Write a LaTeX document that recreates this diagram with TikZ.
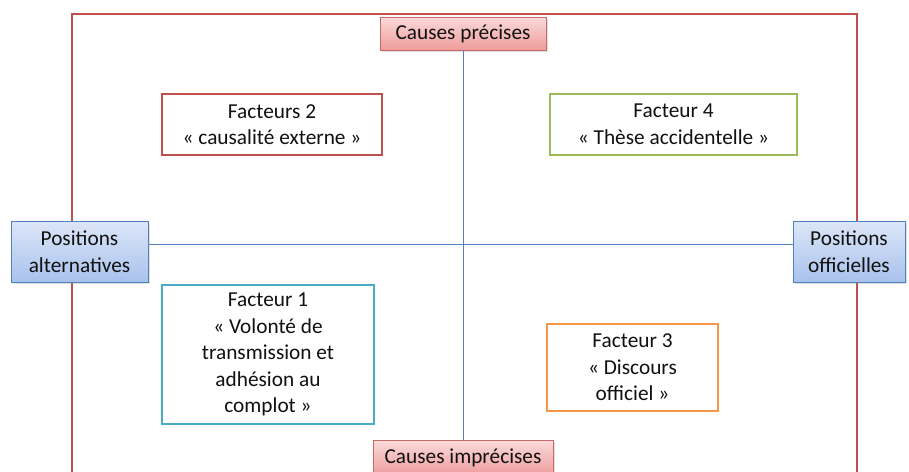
\documentclass[tikz,border=0pt]{standalone}
\usepackage{fontspec}
\setmainfont{Carlito}
\usetikzlibrary{shadows}
\definecolor{frame}{HTML}{C0504D}
\definecolor{axis}{HTML}{4F81BD}
\definecolor{fgreen}{HTML}{9BBB59}
\definecolor{fblue}{HTML}{4BACC6}
\definecolor{forange}{HTML}{F79646}
\definecolor{txt}{HTML}{111111}
\definecolor{pinktop}{HTML}{FADADA}
\definecolor{pinkbot}{HTML}{EE9C9B}
\definecolor{bluetop}{HTML}{DCE6F8}
\definecolor{bluebot}{HTML}{A9C2EC}
\tikzset{
  every node/.style={text=txt, font=\fontsize{21.3}{26.6}\selectfont, align=center, inner sep=0pt},
  causebox/.style={draw=frame!85, line width=0.8pt, top color=pinktop, bottom color=pinkbot, drop shadow={opacity=0.25, shadow xshift=1.5pt, shadow yshift=-1.5pt}},
  posbox/.style={draw=axis, line width=0.8pt, top color=bluetop, bottom color=bluebot, drop shadow={opacity=0.25, shadow xshift=1.5pt, shadow yshift=-1.5pt}},
  factbox/.style={draw=#1, line width=1.6pt, fill=white},
  axisline/.style={draw=axis, line width=0.9pt}
}
\begin{document}
\begin{tikzpicture}[x=1pt,y=-1pt]
\useasboundingbox (0,0) rectangle (909,471);
\clip (0,0) rectangle (909,471);
\draw[frame, line width=1.6pt] (72,490) -- (72,14) -- (857,14) -- (857,490);
% axes nodes
\node[causebox, minimum width=166, minimum height=33] (top) at (463,33.5) {Causes précises};
\node[causebox, minimum width=180, minimum height=36] (bot) at (463,458) {\raisebox{-2pt}{Causes imprécises}};
\node[posbox, minimum width=137, minimum height=61] (alt) at (79.5,251.5) {Positions\\alternatives};
\node[posbox, minimum width=112, minimum height=61] (off) at (849,251.5) {Positions\\officielles};
\draw[axisline] (top) -- (bot);
\draw[axisline] ([yshift=7.5pt]alt.east) -- ([yshift=7.5pt]off.west);
% factors
\node[factbox=frame, minimum width=220, minimum height=61] (f2) at (272,124.5) {Facteurs 2\\« causalité externe »};
\node[factbox=fgreen, minimum width=247, minimum height=61] (f4) at (673.5,124.5) {Facteur 4\\« Thèse accidentelle »};
\node[factbox=fblue, minimum width=212, minimum height=139] (f1) at (268,354.5) {Facteur 1\\« Volonté de\\transmission et\\adhésion au\\complot »};
\node[factbox=forange, minimum width=171, minimum height=87] (f3) at (632.5,367.5) {Facteur 3\\« Discours\\officiel »};
\end{tikzpicture}
\end{document}
